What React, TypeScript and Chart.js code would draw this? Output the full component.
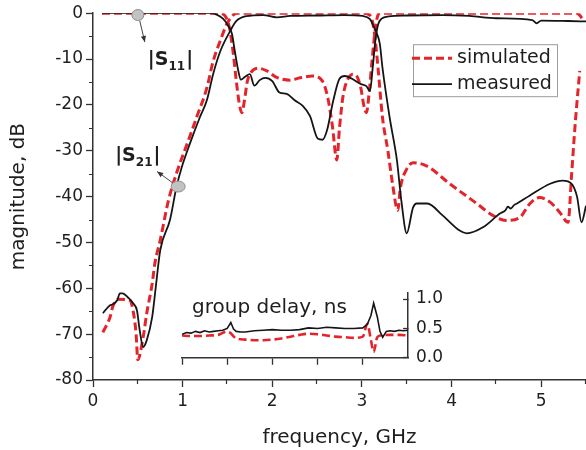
import React, { useEffect, useRef } from 'react';
import { Chart, registerables } from 'chart.js';

Chart.register(...registerables);

const FONT = "'DejaVu Sans', 'Liberation Sans', Arial, sans-serif";
const RED = '#e3242b';
const BLACK = '#151515';
const AXIS = '#333333';
const TEXT = '#1e1e1e';

// ---------- main chart data (frequency GHz, magnitude dB) ----------
const s11SimFreq = [0.1, 0.5, 1.0, 1.4, 1.47, 1.52, 1.56, 1.6, 1.63, 1.66, 1.69, 1.72, 1.76, 1.84, 1.94, 2.05, 2.2, 2.31, 2.45, 2.56, 2.62, 2.67, 2.72, 2.75, 2.79, 2.84, 2.9, 2.95, 2.99, 3.02, 3.05, 3.08, 3.11, 3.14, 3.17, 3.2, 3.5, 4.0, 4.5, 5.0, 5.4, 5.46];
const s11SimDb = [0, 0, 0, 0, -0.5, -3, -8, -15, -19.5, -21.7, -19, -15, -13, -12, -12.6, -14, -14.6, -14.1, -13.7, -14.8, -18.5, -24.5, -32, -25, -18, -14.5, -13.3, -14, -16.5, -20, -21.7, -17.5, -11, -5, -1, 0, 0, 0, 0, 0, 0, -1.2];

const s21SimFreq = [0.11, 0.19, 0.22, 0.28, 0.41, 0.45, 0.48, 0.5, 0.56, 0.6, 0.66, 0.69, 0.75, 0.84, 0.93, 1.05, 1.16, 1.27, 1.34, 1.42, 1.49, 1.55, 1.6, 2.0, 2.5, 3.0, 3.08, 3.12, 3.15, 3.18, 3.23, 3.29, 3.34, 3.4, 3.43, 3.5, 3.57, 3.72, 3.98, 4.28, 4.46, 4.61, 4.76, 4.87, 4.98, 5.1, 5.21, 5.3, 5.34, 5.38, 5.43];
const s21SimDb = [-69.6, -66.3, -64, -62.4, -62.6, -65.2, -69.8, -75.6, -70.6, -65.4, -59, -54.6, -49.5, -41, -35, -28.5, -22.5, -16.3, -10.5, -6, -2.5, -0.7, 0, 0, 0, 0, -0.3, -2, -6, -12, -22.8, -30, -37, -43, -38, -34, -32.6, -33.3, -37.2, -41.5, -44.1, -45.2, -44.6, -41.6, -40.2, -41.2, -43.5, -45.6, -35, -24, -12.6];

const s11MeasFreq = [0.1, 1.0, 1.3, 1.38, 1.45, 1.5, 1.55, 1.58, 1.62, 1.65, 1.7, 1.75, 1.8, 1.86, 1.92, 2.0, 2.08, 2.16, 2.25, 2.34, 2.42, 2.51, 2.56, 2.61, 2.68, 2.75, 2.81, 2.89, 2.98, 3.05, 3.09, 3.12, 3.15, 3.18, 3.22, 3.3, 3.5, 3.9, 4.2, 4.5, 4.9, 4.95, 5.0, 5.3, 5.5];
const s11MeasDb = [0, 0, 0, -0.3, -1.2, -2.5, -4.5, -8, -12.5, -14.5, -13.8, -13.3, -15.8, -14.6, -14.1, -14.8, -17.3, -17.6, -19, -20.2, -22.4, -27.4, -27.6, -25.6, -19.1, -14.3, -13.7, -14.3, -15.4, -15.9, -17, -12, -6, -2.5, -1.2, -0.7, -0.5, -0.4, -0.6, -1.1, -1.5, -2.2, -1.6, -1.7, -1.8];

const s21MeasFreq = [0.11, 0.19, 0.22, 0.27, 0.3, 0.33, 0.39, 0.45, 0.49, 0.52, 0.56, 0.6, 0.66, 0.7, 0.75, 0.86, 0.93, 0.99, 1.08, 1.19, 1.27, 1.34, 1.42, 1.53, 1.6, 1.71, 1.9, 2.05, 2.2, 2.5, 2.8, 3.01, 3.09, 3.12, 3.17, 3.2, 3.23, 3.31, 3.39, 3.44, 3.5, 3.57, 3.61, 3.73, 3.9, 4.09, 4.17, 4.35, 4.54, 4.6, 4.63, 4.66, 4.7, 4.73, 4.87, 5.1, 5.24, 5.34, 5.4, 5.45, 5.5];
const s21MeasDb = [-65.4, -63.7, -63.5, -62.6, -61.1, -61.1, -62, -63.3, -64.8, -69, -72.8, -71.3, -66.3, -59.8, -51.7, -45, -38, -33.6, -28.5, -22.8, -19, -13.3, -8.3, -3.9, -1.7, -0.65, -0.4, -0.9, -0.6, -0.5, -0.4, -0.6, -1.3, -2.4, -4.6, -6.7, -12, -22.8, -32, -40.9, -48, -42.4, -41.5, -41.5, -44.1, -47.4, -48, -46.7, -43.7, -43, -42.2, -42.6, -41.8, -41.5, -39.8, -37.2, -36.5, -37.2, -40, -45.6, -42];

const xTicks = [0, 1, 2, 3, 4, 5];
const xMinorTicks = [0.5, 1.5, 2.5, 3.5, 4.5, 5.5];
const yTicks = [-80, -70, -60, -50, -40, -30, -20, -10, 0];
const yMinorTicks = [-75, -65, -55, -45, -35, -25, -15, -5];

const legendLabels = ['simulated', 'measured'];
const s11Mark = [0.5, -0.4];
const s21Mark = [0.95, -37.8];

// ---------- inset data (frequency GHz, group delay ns) ----------
const gdMeasFreq = [1.0, 1.05, 1.1, 1.15, 1.2, 1.25, 1.3, 1.35, 1.4, 1.45, 1.5, 1.54, 1.57, 1.6, 1.65, 1.7, 1.8, 1.9, 2.0, 2.1, 2.2, 2.3, 2.4, 2.5, 2.6, 2.7, 2.8, 2.9, 3.0, 3.05, 3.09, 3.12, 3.16, 3.19, 3.22, 3.26, 3.3, 3.35, 3.4, 3.45, 3.5];
const gdMeasNs = [0.4, 0.43, 0.42, 0.45, 0.43, 0.46, 0.44, 0.45, 0.46, 0.47, 0.5, 0.6, 0.49, 0.45, 0.44, 0.44, 0.46, 0.47, 0.48, 0.47, 0.47, 0.48, 0.51, 0.5, 0.52, 0.51, 0.5, 0.5, 0.51, 0.57, 0.72, 0.93, 0.7, 0.45, 0.35, 0.45, 0.46, 0.45, 0.47, 0.46, 0.47];
const gdSimFreq = [1.0, 1.1, 1.2, 1.3, 1.4, 1.5, 1.53, 1.6, 1.7, 1.8, 1.9, 2.0, 2.1, 2.2, 2.3, 2.4, 2.5, 2.6, 2.7, 2.8, 2.9, 3.0, 3.05, 3.09, 3.12, 3.16, 3.2, 3.3, 3.4, 3.5];
const gdSimNs = [0.38, 0.37, 0.37, 0.38, 0.39, 0.45, 0.43, 0.33, 0.31, 0.3, 0.3, 0.31, 0.33, 0.36, 0.39, 0.41, 0.4, 0.38, 0.36, 0.35, 0.34, 0.36, 0.58, 0.3, 0.1, 0.35, 0.38, 0.39, 0.39, 0.38];
const gdYTicks = [0, 0.25, 0.5, 0.75, 1.0];
const gdXTicks = [1.0, 1.5, 2.0, 2.5, 3.0];

const pts = (xs: number[], ys: number[]) => xs.map((x, i) => ({ x, y: ys[i] }));

function arrow(ctx: CanvasRenderingContext2D, x1: number, y1: number, x2: number, y2: number) {
  ctx.save();
  ctx.strokeStyle = '#444';
  ctx.fillStyle = '#333';
  ctx.lineWidth = 1;
  ctx.beginPath();
  ctx.moveTo(x1, y1);
  ctx.lineTo(x2, y2);
  ctx.stroke();
  const a = Math.atan2(y2 - y1, x2 - x1);
  const L = 6, W = 2.6;
  ctx.beginPath();
  ctx.moveTo(x2, y2);
  ctx.lineTo(x2 - L * Math.cos(a) + W * Math.sin(a), y2 - L * Math.sin(a) - W * Math.cos(a));
  ctx.lineTo(x2 - L * Math.cos(a) - W * Math.sin(a), y2 - L * Math.sin(a) + W * Math.cos(a));
  ctx.closePath();
  ctx.fill();
  ctx.restore();
}

function marker(ctx: CanvasRenderingContext2D, x: number, y: number, rx: number, ry: number) {
  ctx.save();
  ctx.beginPath();
  ctx.ellipse(x, y, rx, ry, 0, 0, Math.PI * 2);
  ctx.fillStyle = '#c2c2c2';
  ctx.fill();
  ctx.strokeStyle = '#8c8c8c';
  ctx.lineWidth = 1;
  ctx.stroke();
  ctx.restore();
}

function sLabel(ctx: CanvasRenderingContext2D, x: number, baseline: number, sub: string) {
  ctx.save();
  ctx.fillStyle = TEXT;
  ctx.textBaseline = 'alphabetic';
  ctx.textAlign = 'left';
  ctx.font = `bold 19px ${FONT}`;
  const main = '|S';
  ctx.fillText(main, x, baseline);
  let cx = x + ctx.measureText(main).width;
  ctx.font = `bold 12px ${FONT}`;
  ctx.fillText(sub, cx, baseline + 5);
  cx += ctx.measureText(sub).width + 1;
  ctx.font = `bold 19px ${FONT}`;
  ctx.fillText('|', cx, baseline);
  ctx.restore();
}

const minorTicksPlugin = {
  id: 'minorTicks',
  afterDraw(chart: any) {
    const { ctx, chartArea, scales } = chart;
    ctx.save();
    ctx.strokeStyle = AXIS;
    ctx.lineWidth = 1.2;
    ctx.beginPath();
    yMinorTicks.forEach((v) => {
      const py = Math.round(scales.y.getPixelForValue(v)) + 0.5;
      ctx.moveTo(chartArea.left - 4, py);
      ctx.lineTo(chartArea.left, py);
    });
    xMinorTicks.forEach((v) => {
      const px = Math.round(scales.x.getPixelForValue(v)) - 0.5;
      ctx.moveTo(px, chartArea.bottom);
      ctx.lineTo(px, chartArea.bottom + 4);
    });
    ctx.stroke();
    ctx.restore();
  },
};

const annotationsPlugin = {
  id: 'annotations',
  afterDatasetsDraw(chart: any) {
    const { ctx, scales } = chart;
    const e1x = scales.x.getPixelForValue(s11Mark[0]);
    const e1y = scales.y.getPixelForValue(s11Mark[1]);
    const e2x = scales.x.getPixelForValue(s21Mark[0]);
    const e2y = scales.y.getPixelForValue(s21Mark[1]);
    arrow(ctx, e1x + 2, e1y + 6, e1x + 7, e1y + 27);
    marker(ctx, e1x, e1y, 6, 5.5);
    sLabel(ctx, e1x + 10, e1y + 50, '11');
    arrow(ctx, e2x - 6, e2y - 4, e2x - 21, e2y - 15);
    marker(ctx, e2x, e2y, 7, 5.5);
    sLabel(ctx, e2x - 63, e2y - 26, '21');
  },
};

const legendPlugin = {
  id: 'boxLegend',
  afterDraw(chart: any) {
    const { ctx, chartArea } = chart;
    const left = chartArea.right - 173;
    const top = chartArea.top + 31;
    const w = 144, h = 52;
    ctx.save();
    ctx.fillStyle = '#ffffff';
    ctx.fillRect(left, top, w, h);
    ctx.strokeStyle = '#9c9c9c';
    ctx.lineWidth = 1;
    ctx.strokeRect(left + 0.5, top + 0.5, w, h);
    legendLabels.forEach((label, i) => {
      const ds = chart.data.datasets.find((d: any) => d.label === label);
      const cy = top + 14 + i * 26;
      ctx.beginPath();
      ctx.strokeStyle = ds.borderColor;
      ctx.lineWidth = ds.borderWidth;
      ctx.setLineDash(ds.borderDash || []);
      ctx.moveTo(left - 1, cy);
      ctx.lineTo(left + 39, cy);
      ctx.stroke();
      ctx.setLineDash([]);
      ctx.fillStyle = TEXT;
      ctx.font = `19px ${FONT}`;
      ctx.textBaseline = 'middle';
      ctx.textAlign = 'left';
      ctx.fillText(label, left + 44, cy);
    });
    ctx.restore();
  },
};

const insetTitlePlugin = {
  id: 'insetTitle',
  afterDraw(chart: any) {
    const { ctx, chartArea } = chart;
    ctx.save();
    ctx.fillStyle = TEXT;
    ctx.font = `20px ${FONT}`;
    ctx.textBaseline = 'alphabetic';
    ctx.textAlign = 'left';
    ctx.fillText('group delay, ns', chartArea.left + 10, chartArea.top + 20);
    ctx.restore();
  },
};

const lineBase = {
  pointRadius: 0,
  fill: false,
  cubicInterpolationMode: 'monotone' as const,
};

export default function App() {
  const mainRef = useRef<HTMLCanvasElement>(null);
  const insetRef = useRef<HTMLCanvasElement>(null);

  useEffect(() => {
    const tickFont = { family: FONT, size: 17 };
    const titleFont = { family: FONT, size: 20 };
    const main = new Chart(mainRef.current as HTMLCanvasElement, {
      type: 'line',
      data: {
        datasets: [
          { ...lineBase, label: 'measured', data: pts(s11MeasFreq, s11MeasDb), borderColor: BLACK, borderWidth: 1.8 },
          { ...lineBase, label: 'measured S21', data: pts(s21MeasFreq, s21MeasDb), borderColor: BLACK, borderWidth: 1.8 },
          { ...lineBase, label: 'simulated', data: pts(s11SimFreq, s11SimDb), borderColor: RED, borderWidth: 3, borderDash: [8, 4] },
          { ...lineBase, label: 'simulated S21', data: pts(s21SimFreq, s21SimDb), borderColor: RED, borderWidth: 3, borderDash: [8, 4] },
        ],
      },
      options: {
        responsive: true,
        maintainAspectRatio: false,
        animation: false,
        layout: { padding: { top: 12, right: 0, left: 0, bottom: 0 } },
        plugins: { legend: { display: false }, tooltip: { enabled: false } },
        scales: {
          x: {
            type: 'linear',
            min: 0,
            max: 5.5,
            afterBuildTicks: (s: any) => { s.ticks = xTicks.map((v) => ({ value: v })); },
            afterFit: (s: any) => { s.height = 70; },
            grid: { drawOnChartArea: false, tickLength: 7, color: AXIS, tickWidth: 1.3 },
            border: { display: true, color: AXIS, width: 1.5 },
            ticks: { font: tickFont, color: TEXT, padding: 4, maxRotation: 0 },
            title: { display: true, text: 'frequency, GHz', font: titleFont, color: TEXT, padding: { top: 4, bottom: 0 } },
          },
          y: {
            type: 'linear',
            min: -80,
            max: 0,
            afterBuildTicks: (s: any) => { s.ticks = yTicks.map((v) => ({ value: v })); },
            afterFit: (s: any) => { s.width = 93; },
            grid: { drawOnChartArea: false, tickLength: 7, color: AXIS, tickWidth: 1.3 },
            border: { display: true, color: AXIS, width: 1.5 },
            ticks: { font: tickFont, color: TEXT, padding: 3 },
            title: { display: true, text: 'magnitude, dB', font: titleFont, color: TEXT, padding: { top: 7, bottom: 0 } },
          },
        },
      },
      plugins: [minorTicksPlugin, annotationsPlugin, legendPlugin],
    } as any);

    const inset = new Chart(insetRef.current as HTMLCanvasElement, {
      type: 'line',
      data: {
        datasets: [
          { ...lineBase, label: 'measured', data: pts(gdMeasFreq, gdMeasNs), borderColor: BLACK, borderWidth: 1.6, cubicInterpolationMode: 'default', tension: 0 },
          { ...lineBase, label: 'simulated', data: pts(gdSimFreq, gdSimNs), borderColor: RED, borderWidth: 2.6, borderDash: [8, 4] },
        ],
      },
      options: {
        responsive: true,
        maintainAspectRatio: false,
        animation: false,
        layout: { padding: { top: 18, left: 12, right: 0, bottom: 0 } },
        plugins: { legend: { display: false }, tooltip: { enabled: false } },
        scales: {
          x: {
            type: 'linear',
            min: 1.0,
            max: 3.5,
            afterBuildTicks: (s: any) => { s.ticks = gdXTicks.map((v) => ({ value: v })); },
            afterFit: (s: any) => { s.height = 13; },
            grid: { drawOnChartArea: false, tickLength: 7, color: AXIS, tickWidth: 1.3 },
            border: { display: true, color: AXIS, width: 1.5 },
            ticks: { display: false },
          },
          y: {
            type: 'linear',
            position: 'right',
            min: 0,
            max: 1.1,
            afterBuildTicks: (s: any) => { s.ticks = gdYTicks.map((v) => ({ value: v })); },
            afterFit: (s: any) => { s.width = 52; },
            grid: { drawOnChartArea: false, tickLength: -5, color: AXIS, tickWidth: 1.3 },
            border: { display: true, color: AXIS, width: 1.5 },
            ticks: {
              font: tickFont,
              color: TEXT,
              padding: 13,
              callback: (v: any) => (Math.abs(v % 0.5) < 1e-9 ? Number(v).toFixed(1) : ''),
            },
          },
        },
      },
      plugins: [insetTitlePlugin],
    } as any);

    return () => {
      main.destroy();
      inset.destroy();
    };
  }, []);

  return (
    <>
      <div style={{ position: 'absolute', left: 0, top: 0, width: 586, height: 450 }}>
        <canvas ref={mainRef} />
      </div>
      <div style={{ position: 'absolute', left: 170, top: 270, width: 290, height: 111 }}>
        <canvas ref={insetRef} />
      </div>
    </>
  );
}
